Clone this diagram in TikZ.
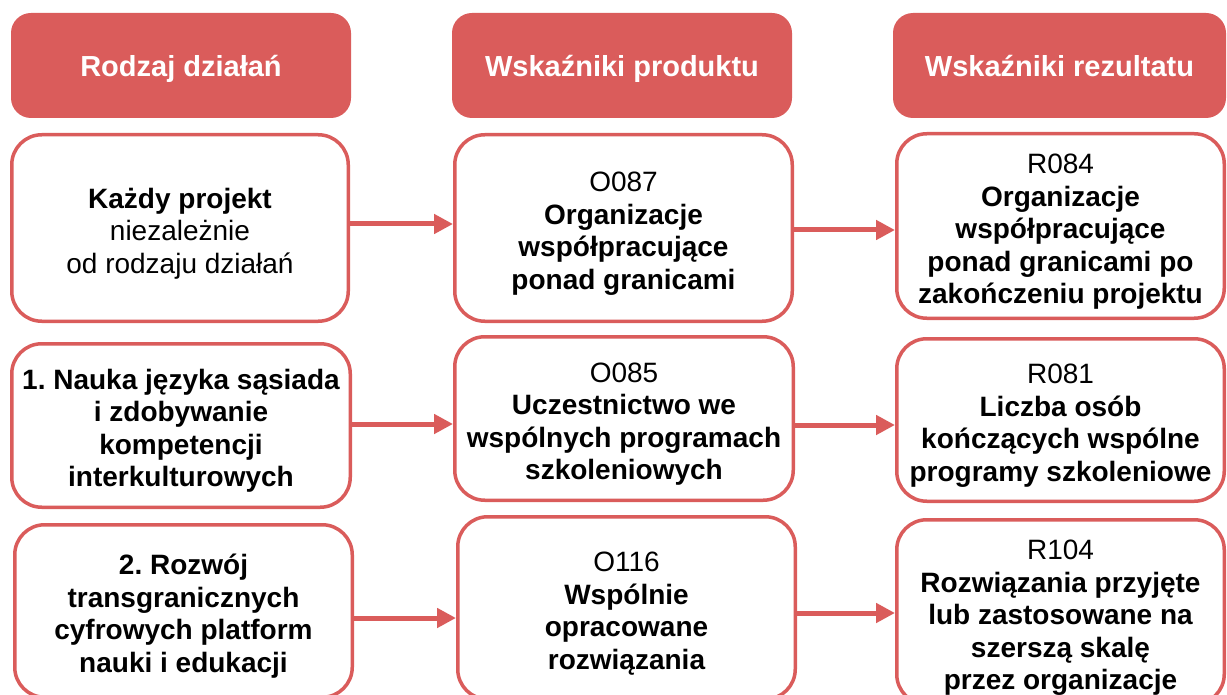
\documentclass[tikz,border=0pt]{standalone}
\usepackage{fontspec}
\setmainfont{Liberation Sans}
\usetikzlibrary{arrows.meta}
\definecolor{hdrred}{RGB}{218,92,91}
\newcommand{\lift}{\rule{0pt}{31pt}}

\begin{document}
\begin{tikzpicture}[x=1pt,y=-1pt,
		hdr/.style={fill=hdrred, rounded corners=20pt, text=white, inner sep=0pt,
			minimum height=105pt, text height=23pt, text depth=0pt,
			font=\bfseries\fontsize{29}{34}\selectfont},
		box/.style={draw=hdrred, line width=3.5pt, rounded corners=30pt, fill=white,
			align=center, inner sep=0pt,
			font=\bfseries\fontsize{28}{32.5}\selectfont\frenchspacing},
		arr/.style={draw=hdrred, line width=5pt, -{Triangle[length=19pt,width=19pt]}}]
			\useasboundingbox (0,0) rectangle (1227,695);
			\clip (0,0) rectangle (1227,695);
			% naglowki kolumn
			\node[hdr, minimum width=340pt] (hAct) at (181,65.5) {Rodzaj działań};
			\node[hdr, minimum width=340pt] (hOut) at (622,65.5) {Wskaźniki produktu};
			\node[hdr, minimum width=333pt] (hRes) at (1059.5,65.5) {Wskaźniki rezultatu};
			% wiersz 1
			\node[box, minimum width=336.5pt, minimum height=186.5pt] (act1) at (180,228)
				{\lift Każdy projekt\\{\mdseries niezależnie}\\{\mdseries od rodzaju działań}};
			\node[box, minimum width=337.5pt, minimum height=186.5pt] (out1) at (623.5,228)
				{\lift{\mdseries O087}\\Organizacje\\współpracujące\\ponad granicami};
			\node[box, minimum width=327.5pt, minimum height=184.5pt] (res1) at (1060.5,226)
				{\lift{\mdseries R084}\\Organizacje\\współpracujące\\ponad granicami po\\zakończeniu projektu};
			% wiersz 2
			\node[box, minimum width=338.5pt, minimum height=163.5pt] (act2) at (181,425.5)
				{\lift 1. Nauka języka sąsiada\\i zdobywanie\\kompetencji\\interkulturowych};
			\node[box, minimum width=338.5pt, minimum height=163.5pt] (out2) at (624,418.5)
				{\lift{\mdseries O085}\\Uczestnictwo we\\wspólnych programach\\szkoleniowych};
			\node[box, minimum width=327.5pt, minimum height=162.5pt] (res2) at (1060.5,420)
				{\lift{\mdseries R081}\\Liczba osób\\kończących wspólne\\programy szkoleniowe};
			% wiersz 3
			\node[box, minimum width=337.5pt, minimum height=172.5pt] (act3) at (183.5,611)
				{\lift 2. Rozwój\\transgranicznych\\cyfrowych platform\\nauki i edukacji};
			\node[box, minimum width=337.5pt, minimum height=182.5pt] (out3) at (626.5,608)
				{\lift{\mdseries O116}\\Wspólnie\\opracowane\\rozwiązania};
			\node[box, minimum width=327.5pt, minimum height=184.5pt] (res3) at (1060.5,612)
				{\lift{\mdseries R104}\\Rozwiązania przyjęte\\lub zastosowane na\\szerszą skalę\\przez organizacje};
			% strzalki
			\path
				([yshift=4pt]act1.east) edge[arr] ([yshift=4pt]out1.west)
				([yshift=-2pt]out1.east) edge[arr] ([yshift=-4pt]res1.west)
				([yshift=1.5pt]act2.east) edge[arr] ([yshift=-5.5pt]out2.west)
				([yshift=-6.5pt]out2.east) edge[arr] ([yshift=-5pt]res2.west)
				([yshift=-7pt]act3.east) edge[arr] ([yshift=-10pt]out3.west)
				([yshift=-5pt]out3.east) edge[arr] ([yshift=-1pt]res3.west);
		\end{tikzpicture}
\end{document}
